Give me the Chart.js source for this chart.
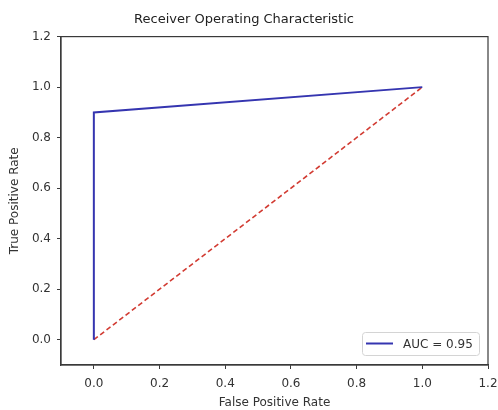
<!DOCTYPE html>
<html>
<head>
<meta charset="utf-8">
<script src="https://cdn.jsdelivr.net/npm/chart.js@4/dist/chart.umd.min.js"></script>
<style>
  html, body { margin: 0; padding: 0; background: #fff; }
  #wrap { width: 498px; height: 410px; }
</style>
</head>
<body>
<div id="wrap"><canvas id="roc" width="498" height="410"></canvas></div>
<script>
// values
var fpr = [0, 0, 1];
var tpr = [0, 0.9, 1];
var chanceX = [0, 1];
var chanceY = [0, 1];
var xTicks = [0, 0.2, 0.4, 0.6, 0.8, 1.0, 1.2];
var yTicks = [0, 0.2, 0.4, 0.6, 0.8, 1.0, 1.2];
var aucLabel = 'AUC = 0.95';

function pts(xs, ys) {
  return xs.map(function (x, i) { return { x: x, y: ys[i] }; });
}

var axisColor = '#3a3a3a';
var textColor = '#333';
var font = 'DejaVu Sans';

// full box around the plot + legend in lower right
var framePlugin = {
  id: 'frame',
  afterDraw: function (chart) {
    var c = chart.ctx, a = chart.chartArea;
    c.save();
    c.strokeStyle = axisColor;
    c.lineWidth = 1.2;
    c.strokeRect(a.left, a.top, a.right - a.left, a.bottom - a.top);

    var ds = chart.data.datasets[0];
    var w = 117, h = 23;
    var x = a.right - 9 - w, y = a.bottom - 10 - h;
    c.fillStyle = 'rgba(255,255,255,0.9)';
    c.strokeStyle = '#d4d4d4';
    c.lineWidth = 1;
    c.beginPath();
    c.roundRect(x + 0.5, y + 0.5, w, h, 3);
    c.fill();
    c.stroke();
    c.strokeStyle = ds.borderColor;
    c.lineWidth = 2;
    c.beginPath();
    c.moveTo(x + 4, y + h / 2);
    c.lineTo(x + 31, y + h / 2);
    c.stroke();
    c.fillStyle = textColor;
    c.font = '12px "' + font + '"';
    c.textBaseline = 'middle';
    c.fillText(ds.label, x + 41, y + h / 2 + 1);
    c.restore();
  }
};

var ctx = document.getElementById('roc').getContext('2d');
var chart = new Chart(ctx, {
  type: 'scatter',
  data: {
    datasets: [
      {
        label: aucLabel,
        data: pts(fpr, tpr),
        showLine: true,
        borderColor: '#3535b0',
        borderWidth: 2,
        pointRadius: 0,
        tension: 0
      },
      {
        label: 'chance',
        data: pts(chanceX, chanceY),
        showLine: true,
        borderColor: '#d23b32',
        borderWidth: 1.6,
        borderDash: [5, 3],
        pointRadius: 0,
        tension: 0
      }
    ]
  },
  options: {
    responsive: false,
    animation: false,
    layout: { padding: { left: 0, right: 10, top: 0, bottom: 0 } },
    plugins: {
      legend: { display: false },
      tooltip: { enabled: false },
      title: {
        display: true,
        text: 'Receiver Operating Characteristic',
        color: '#222',
        font: { family: font, size: 13, weight: 'normal' },
        padding: { top: 12, bottom: 9 }
      }
    },
    scales: {
      x: {
        type: 'linear',
        min: -0.1,
        max: 1.2,
        afterBuildTicks: function (s) { s.ticks = xTicks.map(function (v) { return { value: v }; }); },
        afterFit: function (s) { s.height = 45; s.paddingLeft = 0; s.paddingRight = 0; },
        grid: { drawOnChartArea: false, drawTicks: true, tickLength: 4, color: axisColor },
        border: { display: true, color: axisColor, width: 1.2 },
        ticks: {
          color: textColor,
          padding: 8,
          maxRotation: 0,
          font: { family: font, size: 12 },
          callback: function (v) { return v.toFixed(1); }
        },
        title: {
          display: true,
          text: 'False Positive Rate',
          color: textColor,
          font: { family: font, size: 12 },
          padding: { top: 0, bottom: 0 }
        }
      },
      y: {
        type: 'linear',
        min: -0.1,
        max: 1.2,
        afterBuildTicks: function (s) { s.ticks = yTicks.map(function (v) { return { value: v }; }); },
        afterFit: function (s) { s.width = 61; },
        grid: { drawOnChartArea: false, drawTicks: true, tickLength: 4, color: axisColor },
        border: { display: true, color: axisColor, width: 1.2 },
        ticks: {
          color: textColor,
          padding: 6,
          font: { family: font, size: 12 },
          callback: function (v) { return v.toFixed(1); }
        },
        title: {
          display: true,
          text: 'True Positive Rate',
          color: textColor,
          font: { family: font, size: 12 },
          padding: { top: 8, bottom: 0 }
        }
      }
    }
  },
  plugins: [framePlugin]
});
</script>
</body>
</html>
